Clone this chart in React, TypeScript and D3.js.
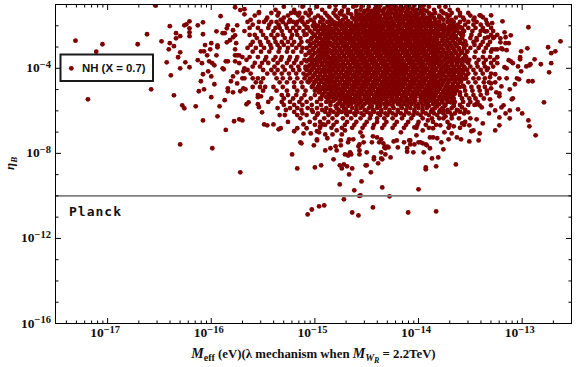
import React from 'react';
import * as d3 from 'd3';

// every value is log10(M_eff / eV), log10(eta_B)
const outliers: [number, number][] = [
  [-17.31,-2.7],[-17.05,-2.87],[-17.11,-3.22],[-17.19,-5.46],[-16.71,-2.87],[-16.62,-2.4],[-16.48,-2.73],[-16.58,-4.99],
  [-16.4,-2.02],[-16.34,-2.35],[-16.34,-2.59],[-16.3,-2.49],[-16.26,-1.98],[-16.24,-1.93],[-16.21,-1.79],[-16.21,-2.12],
  [-16.21,-2.31],[-16.21,-2.49],[-16.13,-1.98],[-16.4,-2.82],[-16.36,-2.96],[-16.41,-3.11],[-16.3,-3.25],[-16.32,-3.48],
  [-16.43,-3.72],[-16.25,-3.72],[-16.3,-4],[-16.21,-3.95],[-16.13,-3.62],[-16.39,-4.33],[-16.36,-5.27],[-16.28,-5.74],
  [-16.26,-5.88],[-16.15,-5.79],[-16.12,-5.08],[-16.3,-7.58],[-16.54,-1.05],
  [-16.08,-6.45],[-15.99,-7.76],[-15.72,-8.89],[-15.86,-6.9],[-15.78,-6.49],[-15.73,-6.4],[-15.7,-6.45],[-15.94,-6.26],
  [-15.92,-5.79],[-15.87,-5.5],[-16,-5.36],[-16.07,-4.99],[-15.97,-4.75],[-16.1,-4.61],[-16,-4.38],[-16.08,-4.28],
  [-16.03,-4.14],[-16.09,-3.76],[-16.02,-3.67],[-15.99,-3.76],[-15.97,-3.86],[-16.04,-3.39],[-15.95,-3.39],[-16.1,-3.2],
  [-16.07,-3.2],[-16.01,-3.11],[-16,-2.82],[-16.06,-2.91],[-15.94,-2.92],[-15.94,-3.01],[-16.08,-2.4],[-15.95,-2.26],
  [-16.08,-1.84],[-15.91,-1.55],[-15.77,-1.13],[-15.72,-1.26],[-15.68,-1.22],[-15.68,-1.46],[-15.54,-1.36],[-15.75,-1.98],
  [-15.84,-1.98],[-15.85,-2.12],[-15.89,-2.35],[-15.87,-2.35],[-15.79,-2.21],[-15.77,-2.45],[-15.79,-2.54],[-15.82,-2.68],
  [-15.85,-2.78],[-15.76,-2.82],[-15.77,-3.11],[-15.75,-3.39],[-15.73,-3.39],[-15.77,-3.39],[-15.84,-3.67],[-15.86,-3.67],
  [-15.73,-3.76],[-15.77,-3.67],[-15.89,-4],[-15.88,-4.05],[-15.75,-4.19],[-15.79,-4.38],[-15.81,-4.61],[-15.75,-4.71],
  [-15.7,-4.47],[-15.68,-4],[-15.69,-4.14],[-15.84,-4.94],[-15.84,-5.08],[-15.79,-5.13],[-15.72,-5.08],[-15.69,-4.94],
  [-15.67,-4.99],[-15.66,-5.69],[-15.64,-5.6],[-15.55,-5.36],[-15.52,-5.32],[-15.55,-5.69],[-15.54,-5.83],[-15.51,-6.07],
  [-15.49,-6.64],[-15.46,-6.68],[-15.4,-6.64],[-15.35,-6.87],[-15.33,-6.82],[-15.22,-8.05],[-15.17,-8.71],[-15,-8.66],
  [-14.94,-8.56],[-15.14,-7.48],[-15.13,-7.53],[-15.01,-7.62],[-15.2,-6.96],[-15.17,-6.82],[-15.11,-6.64],[-15.08,-6.82],
  [-15.11,-7.06],[-15.04,-7.06],[-14.98,-6.96],[-14.98,-7.39],[-14.9,-7.86],[-14.85,-7.76],[-14.82,-8.28],[-14.79,-7.86],
  [-14.76,-8.56],[-14.74,-8.71],[-14.72,-8.52],[-14.69,-8.61],[-14.64,-8.71],[-14.67,-8.99],[-14.71,-8.05],[-14.66,-8],
  [-14.57,-8.05],[-14.57,-7.58],[-14.5,-7.95],[-14.51,-8.56],[-14.46,-8.89],[-14.43,-8.19],[-14.39,-8.47],[-14.36,-7.95],
  [-14.35,-8.28],[-14.27,-8.19],[-14.32,-7.76],[-14.2,-7.72],[-15.07,-10.87],[-15.03,-10.64],[-14.96,-10.49],[-14.91,-10.45],
  [-14.76,-9.46],[-14.72,-10.16],[-14.64,-10.78],[-14.58,-10.92],[-14.62,-9.74],[-14.55,-9.32],[-14.56,-9.98],[-14.57,-10],
  [-14.44,-10.54],[-14.35,-9.6],[-14.28,-10.02],[-14.1,-10.78],[-14,-9.69],[-13.83,-10.73],[-13.93,-8.66],[-13.93,-8.75],
  [-13.83,-8.61],[-13.87,-8.24],[-13.81,-8.19],[-13.76,-7.81],[-14.32,-8.05],[-14.36,-8.24],[-14.43,-8.28],[-14.5,-8.56],
  [-14.57,-7.86],[-14.58,-7.67],[-14.65,-8.05],[-14.68,-8.1],[-14.66,-7.95],[-14.11,-7.92],[-14.11,-7.76],[-14.05,-7.95],
  [-13.95,-7.95],[-13.89,-7.76],[-13.93,-7.58],[-13.98,-7.48],[-14.04,-7.58],[-14.08,-7.58],[-14.08,-7.39],[-14.14,-7.48],
  [-14.24,-7.44],[-14.21,-7.39],[-14.32,-7.68],[-14.3,-7.68],[-14.29,-7.72],[-14.33,-7.72],[-14.34,-7.53],[-14.38,-7.48],
  [-14.44,-7.2],[-14.4,-7.25],[-14.36,-7.34],[-14.45,-7.48],[-14.53,-7.48],[-14.54,-7.2],[-14.56,-7.01],[-14.63,-7.34],
  [-14.67,-7.34],[-14.68,-7.48],[-14.75,-7.39],[-14.74,-7.11],[-14.71,-6.92],[-14.79,-6.92],[-14.83,-7.11],[-14.75,-7.62],
  [-14.8,-7.67],[-14.98,-7.34],[-14.95,-6.73],[-14.96,-7.01],[-14.9,-7.11],[-14.88,-7.29],[-14.92,-6.64],
  [-12.63,-2.73],[-12.94,-2.07],[-12.75,-3.01],[-12.68,-3.2],[-12.72,-3.29],[-12.72,-3.76],[-12.74,-4.19],[-12.82,-3.81],
  [-12.88,-3.58],[-12.95,-3.06],[-13.01,-3.2],[-13.02,-3.48],[-13.02,-3.58],[-12.93,-3.86],[-12.96,-3.91],[-12.92,-3.81],
  [-13.01,-4.14],[-12.94,-4.61],[-12.9,-4.61],[-12.79,-5.6],[-13.04,-5.93],[-13,-6.12],[-12.94,-6.45],[-12.93,-6.73],
  [-12.87,-7.15],[-13.12,-6.35],[-13.16,-6.12],[-13.12,-5.98],[-13.18,-5.74],[-13.2,-5.84],[-13.26,-5.98],[-13.22,-6.31],
  [-13.22,-6.68],[-13.26,-6.92],[-13.1,-5.46],[-13.09,-5.41],[-13.07,-4.75],[-13.05,-4.47],[-13.03,-4.52],[-13.15,-4.47],
  [-13.12,-4.99],[-13.2,-4.85],[-13.22,-5.18],[-13.22,-5.32],[-13.25,-5.13],[-13.26,-4.66],[-13.22,-4.47],[-13.31,-4.42],
  [-13.3,-4.71],[-13.3,-4.94],[-13.34,-5.18],[-13.31,-5.46],[-13.04,-3.91],[-13.09,-3.76],[-13.13,-3.62],[-13.11,-3.67],
  [-13.15,-4],[-13.17,-3.95],[-13.24,-3.48],[-13.24,-3.76],[-13.26,-4.28],[-13.33,-4],[-13.19,-3.11],[-13.15,-3.15],
  [-13.2,-3.06],[-13.21,-2.78],[-13.16,-2.82],[-13.13,-2.82],[-13.17,-2.31],[-13.11,-2.45],[-13.16,-2.54],[-13.21,-2.59],
  [-13.19,-1.79],[-13.3,-1.51],[-13.34,-1.88],[-13.29,-1.88],[-13.41,-1.51],[-13.38,-1.6],[-13.36,-2.26],[-13.34,-2.26],
  [-13.27,-2.54],[-13.33,-2.54],[-13.44,-2.68],[-13.26,-3.11],[-13.29,-3.11],[-13.24,-3.11],
  [-13.38,-6.59],[-13.44,-6.4],[-13.32,-6.12],[-13.3,-5.74],[-13.41,-7.06],[-13.42,-7.39],[-13.51,-7.44],[-13.59,-7.34],
  [-13.64,-8.52],[-14,-7.48],[-13.96,-7.53],[-13.92,-7.62],[-13.78,-7.48],[-13.82,-7.29],[-13.86,-7.25],[-13.89,-7.25],
  [-13.71,-7.34],[-13.68,-7.06],[-13.63,-7.25],[-13.75,-7.01],[-13.79,-6.68],[-13.86,-6.82],[-13.96,-6.92],[-14.02,-7.15],
  [-14.09,-7.39],[-14.17,-7.01],[-14.04,-6.78],[-13.91,-6.45],[-13.8,-6.35],[-13.74,-6.26],[-13.66,-6.73],[-13.61,-6.35],
  [-13.58,-6.59],[-13.51,-6.68],[-13.49,-6.96],[-13.47,-6.92],[-13.41,-5.74],[-13.39,-5.84],[-13.44,-5.69],[-13.52,-6.07],
  [-13.58,-5.84],[-13.62,-5.98],[-13.7,-6.07],[-13.76,-5.98],[-13.86,-5.93],
];

// medium density part, one entry per eta row: [log10 eta, log10 masses]
const fringeRows: [number, number[]][] = [
  [-1.1,[-15.3,-15.12,-14.98,-14.86,-14.72,-14.63,-14.55,-14.48,-14.3,-14.22,-14.12,-13.98,-13.9,-13.8,-13.74]],
  [-1.4,[-15.54,-15.42,-15.35,-15.23,-15.19,-15.15,-15.09,-15.04,-14.9,-14.82,-14.76,-14.68,-14.6,-14.53,-14.47,-13.9,-13.84,-13.76,-13.68,-13.6,-13.52]],
  [-1.62,[-15.46,-15.3,-15.12,-15,-14.94,-14.86,-14.78,-14.7,-14.64,-13.92,-13.85,-13.78,-13.72,-13.64,-13.57,-13.46]],
  [-1.82,[-15.65,-15.54,-15.49,-15.42,-15.37,-15.31,-15.25,-15.21,-15.17,-15.12,-15.07,-15.01,-14.95,-14.88,-14.82,-13.8,-13.72,-13.66,-13.6,-13.52,-13.44]],
  [-2.1,[-15.63,-15.55,-15.45,-15.38,-15.34,-15.27,-15.21,-15.15,-15.08,-13.58,-13.52,-13.45,-13.38,-13.3]],
  [-2.43,[-15.63,-15.58,-15.5,-15.42,-15.36,-15.31,-15.22,-15.17,-15.1,-13.57,-13.49,-13.41,-13.3,-13.24]],
  [-2.76,[-15.6,-15.53,-15.45,-15.38,-15.32,-15.26,-15.2,-15.13,-13.55,-13.47,-13.38,-13.31]],
  [-3.04,[-15.65,-15.57,-15.49,-15.42,-15.34,-15.26,-15.18,-15.12,-13.56,-13.5,-13.42,-13.35]],
  [-3.47,[-15.7,-15.63,-15.55,-15.47,-15.38,-15.32,-15.24,-15.17,-13.54,-13.46,-13.38,-13.31]],
  [-3.75,[-15.58,-15.51,-15.45,-15.36,-15.27,-15.2,-15.13,-13.52,-13.44,-13.37,-13.3]],
  [-4.08,[-15.65,-15.5,-15.42,-15.36,-15.29,-15.21,-15.15,-15.08,-13.53,-13.47,-13.4,-13.34]],
  [-4.47,[-15.68,-15.6,-15.55,-15.5,-15.37,-15.31,-15.24,-15.17,-15.1,-13.54,-13.47,-13.42,-13.36]],
  [-4.88,[-15.6,-15.53,-15.48,-15.4,-15.31,-15.2,-15.12,-15.03,-13.56,-13.49,-13.42,-13.36]],
  [-5.26,[-15.55,-15.32,-15.26,-15.18,-15.1,-15,-13.6,-13.54,-13.47,-13.4]],
  [-5.58,[-15.45,-15.32,-15.24,-15.15,-15.08,-14.98,-14.89,-13.72,-13.65,-13.57,-13.5,-13.43]],
  [-5.87,[-15.36,-15.24,-15.17,-15.07,-14.98,-14.89,-14.79,-14.72,-14.64,-14.56,-14.48,-14.4,-14.32,-14.24,-14.16,-14.08,-14,-13.92,-13.84,-13.77,-13.68]],
  [-6.05,[-15.2,-15.02,-14.9,-14.82,-14.74,-14.66,-14.59,-14.5,-14.43,-14.36,-14.28,-14.2,-14.12,-14.04,-13.96,-13.88,-13.8,-13.72,-13.6]],
  [-6.2,[-15.34,-15.29,-15.17,-15.08,-14.98,-14.87,-14.79,-14.69,-14.61,-14.53,-14.46,-14.37,-14.3,-14.22,-14.14,-14.05,-13.98,-13.9,-13.82,-13.68]],
  [-6.52,[-15.26,-15.05,-14.95,-14.87,-14.79,-14.69,-14.6,-14.5,-14.4,-14.31,-14.21,-14.1,-14,-13.86,-13.72,-13.55]],
  [-6.8,[-14.95,-14.84,-14.74,-14.64,-14.54,-14.44,-14.35,-14.25,-14.14,-14.02,-13.9,-13.71,-13.6]],
  // second pass, in between the rows above
  [-1.25,[-15.38,-15.2,-15.05,-14.93,-14.8,-14.68,-14.56,-14.49,-14.02,-13.95,-13.85,-13.7,-13.62]],
  [-1.52,[-15.58,-15.36,-15.26,-15.16,-15.06,-14.97,-14.88,-14.8,-14.72,-13.88,-13.8,-13.7,-13.6,-13.5,-13.4]],
  [-1.72,[-15.62,-15.47,-15.33,-15.24,-15.14,-15.04,-14.92,-14.84,-14.73,-13.84,-13.76,-13.68,-13.56,-13.47,-13.35]],
  [-1.95,[-15.6,-15.44,-15.35,-15.28,-15.18,-15.1,-13.62,-13.55,-13.47,-13.4,-13.33]],
  [-2.25,[-15.68,-15.52,-15.4,-15.32,-15.24,-15.18,-15.11,-13.56,-13.48,-13.4,-13.35,-13.28]],
  [-2.58,[-15.56,-15.47,-15.39,-15.29,-15.23,-15.14,-13.58,-13.5,-13.44,-13.36,-13.28]],
  [-2.9,[-15.62,-15.52,-15.43,-15.36,-15.3,-15.22,-15.15,-13.54,-13.46,-13.4,-13.33]],
  [-3.22,[-15.6,-15.52,-15.44,-15.35,-15.27,-15.21,-15.13,-13.53,-13.45,-13.37,-13.3]],
  [-3.6,[-15.66,-15.48,-15.4,-15.33,-15.25,-15.18,-15.1,-13.51,-13.42,-13.35,-13.27]],
  [-3.92,[-15.6,-15.53,-15.39,-15.31,-15.23,-15.16,-15.09,-13.5,-13.43,-13.36,-13.28]],
  [-4.25,[-15.62,-15.46,-15.39,-15.32,-15.25,-15.18,-15.11,-13.52,-13.45,-13.38,-13.3]],
  [-4.66,[-15.57,-15.52,-15.34,-15.27,-15.2,-15.13,-15.06,-13.52,-13.45,-13.37,-13.32]],
  [-5.05,[-15.5,-15.37,-15.27,-15.17,-15.09,-15,-13.55,-13.48,-13.41,-13.34]],
  [-5.42,[-15.42,-15.3,-15.21,-15.13,-15.04,-14.95,-13.66,-13.58,-13.51,-13.45,-13.37]],
  [-5.72,[-15.3,-15.2,-15.12,-15.03,-14.94,-14.85,-13.74,-13.66,-13.6,-13.52,-13.46]],
  [-5.96,[-15.28,-15.13,-15.03,-14.93,-14.85,-14.77,-14.7,-14.6,-14.52,-14.44,-14.36,-14.28,-14.2,-14.12,-14.04,-13.96,-13.87,-13.79,-13.72,-13.63,-13.55]],
  [-6.12,[-15.12,-14.97,-14.86,-14.78,-14.7,-14.62,-14.55,-14.47,-14.39,-14.32,-14.25,-14.17,-14.09,-14.01,-13.93,-13.85,-13.76,-13.65,-13.56]],
  [-6.35,[-15.14,-15,-14.91,-14.83,-14.73,-14.65,-14.56,-14.47,-14.4,-14.33,-14.25,-14.16,-14.07,-13.96,-13.87,-13.76,-13.68,-13.5]],
  [-6.66,[-15,-14.9,-14.82,-14.71,-14.62,-14.52,-14.43,-14.33,-14.23,-14.12,-14.01,-13.93,-13.83,-13.7,-13.56]],
];

// the solid middle of the cloud
const coreRows: [number, number[]][] = [
  [-1.2,[-14.42,-14.38,-14.33,-14.27,-14.24,-14.19,-14.15,-14.1,-14.06]],
  [-1.38,[-14.43,-14.39,-14.34,-14.3,-14.26,-14.21,-14.17,-14.12,-14.08,-14.03,-13.98]],
  [-1.54,[-14.6,-14.55,-14.5,-14.46,-14.41,-14.37,-14.32,-14.28,-14.23,-14.19,-14.14,-14.1,-14.05,-14.01,-13.96]],
  [-1.7,[-14.62,-14.57,-14.53,-14.48,-14.44,-14.39,-14.35,-14.3,-14.26,-14.21,-14.17,-14.12,-14.08,-14.03,-13.99,-13.94,-13.89]],
  [-1.86,[-14.8,-14.75,-14.7,-14.65,-14.6,-14.55,-14.51,-14.46,-14.42,-14.37,-14.33,-14.28,-14.24,-14.19,-14.15,-14.1,-14.06,-14.01,-13.97,-13.92,-13.87,-13.82]],
  [-2,[-15.02,-14.97,-14.91,-14.86,-14.81,-14.76,-14.72,-14.67,-14.63,-14.58,-14.54,-14.49,-14.45,-14.41,-14.36,-14.31,-14.27,-14.22,-14.18,-14.13,-14.09,-14.04,-14,-13.95,-13.9,-13.85,-13.8,-13.75,-13.7,-13.65]],
  [-2.16,[-15,-14.94,-14.89,-14.84,-14.79,-14.74,-14.7,-14.65,-14.61,-14.56,-14.52,-14.47,-14.43,-14.39,-14.34,-14.29,-14.25,-14.2,-14.16,-14.11,-14.07,-14.02,-13.98,-13.93,-13.88,-13.83,-13.78,-13.73,-13.68,-13.63]],
  [-2.32,[-15.03,-14.97,-14.92,-14.87,-14.82,-14.77,-14.72,-14.68,-14.63,-14.59,-14.54,-14.5,-14.45,-14.41,-14.37,-14.32,-14.27,-14.23,-14.18,-14.14,-14.09,-14.05,-14,-13.96,-13.91,-13.86,-13.81,-13.76,-13.71,-13.66,-13.61]],
  [-2.48,[-15,-14.95,-14.9,-14.85,-14.8,-14.75,-14.7,-14.66,-14.61,-14.57,-14.52,-14.48,-14.43,-14.39,-14.35,-14.3,-14.25,-14.21,-14.16,-14.12,-14.07,-14.03,-13.98,-13.94,-13.89,-13.84,-13.79,-13.74,-13.69,-13.64]],
  [-2.64,[-15.04,-14.98,-14.93,-14.87,-14.82,-14.77,-14.73,-14.68,-14.64,-14.59,-14.55,-14.5,-14.46,-14.41,-14.37,-14.33,-14.28,-14.23,-14.19,-14.14,-14.1,-14.05,-14.01,-13.96,-13.92,-13.87,-13.82,-13.77,-13.72,-13.67,-13.62]],
  [-2.8,[-15.01,-14.95,-14.9,-14.85,-14.8,-14.75,-14.71,-14.66,-14.62,-14.57,-14.53,-14.48,-14.44,-14.39,-14.35,-14.31,-14.26,-14.21,-14.17,-14.12,-14.08,-14.03,-13.99,-13.94,-13.9,-13.85,-13.8,-13.75,-13.7,-13.65,-13.6]],
  [-2.96,[-15.05,-14.99,-14.93,-14.88,-14.83,-14.78,-14.73,-14.69,-14.64,-14.6,-14.55,-14.51,-14.46,-14.42,-14.37,-14.33,-14.29,-14.24,-14.19,-14.15,-14.1,-14.06,-14.01,-13.97,-13.92,-13.88,-13.83,-13.78,-13.73,-13.68,-13.63]],
  [-3.12,[-15.02,-14.96,-14.91,-14.86,-14.81,-14.76,-14.71,-14.67,-14.62,-14.58,-14.53,-14.49,-14.44,-14.4,-14.35,-14.31,-14.27,-14.22,-14.17,-14.13,-14.08,-14.04,-13.99,-13.95,-13.9,-13.86,-13.81,-13.76,-13.71,-13.66,-13.61]],
  [-3.28,[-15.06,-15,-14.94,-14.89,-14.84,-14.79,-14.74,-14.69,-14.65,-14.6,-14.56,-14.51,-14.47,-14.42,-14.38,-14.33,-14.29,-14.25,-14.2,-14.15,-14.11,-14.06,-14.02,-13.97,-13.93,-13.88,-13.84,-13.79,-13.74,-13.69,-13.64,-13.59]],
  [-3.44,[-15.03,-14.97,-14.92,-14.87,-14.82,-14.77,-14.72,-14.67,-14.63,-14.58,-14.54,-14.49,-14.45,-14.4,-14.36,-14.31,-14.27,-14.23,-14.18,-14.13,-14.09,-14.04,-14,-13.95,-13.91,-13.86,-13.82,-13.77,-13.72,-13.67,-13.62]],
  [-3.6,[-15.06,-15,-14.95,-14.9,-14.85,-14.8,-14.75,-14.7,-14.65,-14.61,-14.56,-14.52,-14.47,-14.43,-14.38,-14.34,-14.29,-14.25,-14.21,-14.16,-14.11,-14.07,-14.02,-13.98,-13.93,-13.89,-13.84,-13.8,-13.75,-13.7,-13.65,-13.6,-13.56]],
  [-3.76,[-15.03,-14.98,-14.93,-14.88,-14.83,-14.78,-14.73,-14.68,-14.63,-14.59,-14.54,-14.5,-14.45,-14.41,-14.36,-14.32,-14.27,-14.23,-14.19,-14.14,-14.09,-14.05,-14,-13.96,-13.91,-13.87,-13.82,-13.78,-13.73,-13.68,-13.63,-13.58]],
  [-3.92,[-15.06,-15.01,-14.96,-14.91,-14.86,-14.81,-14.76,-14.71,-14.66,-14.61,-14.57,-14.52,-14.48,-14.43,-14.39,-14.34,-14.3,-14.25,-14.21,-14.17,-14.12,-14.07,-14.03,-13.98,-13.94,-13.89,-13.85,-13.8,-13.76,-13.71,-13.66,-13.61,-13.56]],
  [-4.08,[-15.03,-14.98,-14.93,-14.88,-14.83,-14.78,-14.73,-14.68,-14.64,-14.59,-14.55,-14.5,-14.46,-14.41,-14.37,-14.32,-14.28,-14.23,-14.19,-14.15,-14.1,-14.05,-14.01,-13.96,-13.92,-13.87,-13.83,-13.78,-13.74,-13.69,-13.64,-13.59]],
  [-4.24,[-15.05,-15,-14.95,-14.9,-14.85,-14.8,-14.75,-14.7,-14.66,-14.61,-14.57,-14.52,-14.48,-14.43,-14.39,-14.34,-14.3,-14.25,-14.21,-14.17,-14.12,-14.07,-14.03,-13.98,-13.94,-13.89,-13.85,-13.8,-13.76,-13.71,-13.66,-13.61,-13.57]],
  [-4.4,[-15.02,-14.97,-14.92,-14.87,-14.82,-14.77,-14.72,-14.68,-14.63,-14.59,-14.54,-14.5,-14.45,-14.41,-14.36,-14.32,-14.27,-14.23,-14.19,-14.14,-14.09,-14.05,-14,-13.96,-13.91,-13.87,-13.82,-13.78,-13.73,-13.68,-13.63,-13.59]],
  [-4.56,[-15.04,-14.99,-14.94,-14.89,-14.84,-14.79,-14.74,-14.69,-14.65,-14.6,-14.56,-14.51,-14.47,-14.42,-14.38,-14.33,-14.29,-14.25,-14.2,-14.16,-14.11,-14.06,-14.02,-13.97,-13.93,-13.88,-13.84,-13.79,-13.75,-13.7,-13.65,-13.6]],
  [-4.72,[-15.01,-14.96,-14.91,-14.86,-14.81,-14.76,-14.71,-14.67,-14.62,-14.58,-14.53,-14.49,-14.44,-14.4,-14.35,-14.31,-14.27,-14.22,-14.18,-14.13,-14.08,-14.04,-13.99,-13.95,-13.9,-13.86,-13.81,-13.77,-13.72,-13.67,-13.62]],
  [-4.88,[-14.97,-14.92,-14.87,-14.83,-14.78,-14.73,-14.69,-14.64,-14.6,-14.55,-14.51,-14.46,-14.42,-14.37,-14.33,-14.29,-14.24,-14.2,-14.15,-14.1,-14.06,-14.01,-13.97,-13.92,-13.88,-13.83,-13.79,-13.74,-13.7,-13.65,-13.6]],
  [-5.04,[-14.95,-14.9,-14.85,-14.8,-14.75,-14.71,-14.66,-14.62,-14.57,-14.53,-14.48,-14.44,-14.39,-14.35,-14.31,-14.26,-14.22,-14.17,-14.12,-14.08,-14.03,-13.99,-13.94,-13.9,-13.85,-13.81,-13.76,-13.72,-13.67,-13.63]],
  [-5.2,[-14.92,-14.87,-14.82,-14.77,-14.73,-14.68,-14.64,-14.59,-14.55,-14.5,-14.46,-14.41,-14.37,-14.33,-14.28,-14.24,-14.19,-14.14,-14.1,-14.05,-14.01,-13.96,-13.92,-13.87,-13.83,-13.78,-13.74,-13.69,-13.65]],
  [-5.36,[-14.89,-14.84,-14.79,-14.75,-14.7,-14.66,-14.61,-14.57,-14.52,-14.48,-14.43,-14.39,-14.35,-14.3,-14.26,-14.21,-14.16,-14.12,-14.07,-14.03,-13.98,-13.94,-13.89,-13.85,-13.8,-13.76,-13.71]],
  [-5.52,[-14.82,-14.76,-14.71,-14.66,-14.6,-14.55,-14.5,-14.45,-14.41,-14.36,-14.31,-14.27,-14.22,-14.17,-14.13,-14.08,-14.03,-13.98,-13.93,-13.88,-13.82,-13.77]],
  [-5.68,[-14.78,-14.72,-14.65,-14.58,-14.52,-14.47,-14.4,-14.33,-14.28,-14.2,-14.14,-14.07,-14,-13.93,-13.86,-13.8]],
];

// in-between rows for the same middle, these close the remaining gaps
const coreFillRows: [number, number[]][] = [
  [-2.08,[-14.8,-14.74,-14.7,-14.65,-14.6,-14.56,-14.52,-14.47,-14.43,-14.38,-14.34,-14.29,-14.25,-14.2,-14.16,-14.11,-14.07,-14.02,-13.98,-13.93,-13.88,-13.82]],
  [-2.24,[-14.82,-14.77,-14.72,-14.67,-14.63,-14.58,-14.53,-14.49,-14.45,-14.4,-14.36,-14.31,-14.27,-14.22,-14.18,-14.13,-14.08,-14.04,-14,-13.95,-13.9,-13.85]],
  [-2.4,[-14.8,-14.75,-14.7,-14.66,-14.61,-14.57,-14.52,-14.47,-14.43,-14.39,-14.34,-14.29,-14.25,-14.21,-14.16,-14.11,-14.07,-14.02,-13.98,-13.93,-13.89,-13.83]],
  [-2.56,[-14.83,-14.78,-14.72,-14.68,-14.63,-14.59,-14.54,-14.5,-14.45,-14.41,-14.36,-14.32,-14.27,-14.23,-14.18,-14.14,-14.09,-14.04,-14,-13.95,-13.9,-13.86]],
  [-2.72,[-14.8,-14.75,-14.71,-14.66,-14.62,-14.57,-14.52,-14.48,-14.44,-14.39,-14.35,-14.3,-14.26,-14.21,-14.17,-14.12,-14.08,-14.03,-13.98,-13.94,-13.89,-13.84]],
  [-2.88,[-14.83,-14.78,-14.73,-14.69,-14.64,-14.59,-14.55,-14.5,-14.46,-14.41,-14.37,-14.33,-14.28,-14.23,-14.19,-14.14,-14.1,-14.05,-14.01,-13.96,-13.91,-13.86]],
  [-3.04,[-14.81,-14.76,-14.71,-14.67,-14.62,-14.58,-14.53,-14.49,-14.44,-14.39,-14.35,-14.31,-14.26,-14.22,-14.17,-14.13,-14.08,-14.03,-13.99,-13.95,-13.9,-13.85]],
  [-3.2,[-14.84,-14.79,-14.74,-14.69,-14.65,-14.6,-14.56,-14.51,-14.47,-14.42,-14.38,-14.33,-14.29,-14.24,-14.2,-14.15,-14.11,-14.06,-14.01,-13.97,-13.93,-13.87]],
  [-3.36,[-14.82,-14.77,-14.72,-14.67,-14.63,-14.58,-14.54,-14.49,-14.45,-14.4,-14.36,-14.31,-14.27,-14.22,-14.18,-14.13,-14.09,-14.04,-14,-13.95,-13.91,-13.86]],
  [-3.52,[-14.84,-14.79,-14.75,-14.7,-14.65,-14.61,-14.56,-14.52,-14.47,-14.43,-14.38,-14.34,-14.29,-14.25,-14.2,-14.16,-14.11,-14.07,-14.02,-13.98,-13.93,-13.88]],
  [-3.68,[-14.82,-14.78,-14.73,-14.68,-14.63,-14.59,-14.54,-14.5,-14.45,-14.41,-14.36,-14.32,-14.27,-14.23,-14.18,-14.14,-14.09,-14.05,-14,-13.96,-13.91,-13.86]],
  [-3.84,[-14.85,-14.8,-14.75,-14.71,-14.66,-14.61,-14.57,-14.52,-14.48,-14.43,-14.39,-14.34,-14.3,-14.25,-14.21,-14.16,-14.12,-14.07,-14.03,-13.98,-13.94,-13.89]],
  [-4,[-14.83,-14.78,-14.73,-14.68,-14.64,-14.59,-14.55,-14.5,-14.46,-14.41,-14.37,-14.32,-14.28,-14.23,-14.19,-14.14,-14.1,-14.05,-14.01,-13.96,-13.92,-13.87]],
  [-4.16,[-14.85,-14.8,-14.75,-14.7,-14.66,-14.61,-14.57,-14.52,-14.48,-14.43,-14.39,-14.34,-14.3,-14.25,-14.21,-14.16,-14.12,-14.07,-14.03,-13.98,-13.94,-13.89]],
  [-4.32,[-14.82,-14.77,-14.72,-14.68,-14.63,-14.59,-14.54,-14.5,-14.45,-14.41,-14.36,-14.32,-14.27,-14.23,-14.18,-14.14,-14.09,-14.05,-14,-13.96,-13.91,-13.86]],
  [-4.48,[-14.84,-14.79,-14.74,-14.69,-14.65,-14.6,-14.56,-14.51,-14.47,-14.42,-14.38,-14.33,-14.29,-14.24,-14.2,-14.15,-14.11,-14.06,-14.02,-13.97,-13.93,-13.88]],
  [-4.64,[-14.81,-14.76,-14.71,-14.67,-14.62,-14.58,-14.53,-14.49,-14.44,-14.4,-14.35,-14.31,-14.26,-14.22,-14.17,-14.13,-14.08,-14.04,-13.99,-13.95,-13.9,-13.85]],
  [-4.8,[-14.78,-14.73,-14.69,-14.64,-14.6,-14.55,-14.51,-14.46,-14.42,-14.37,-14.33,-14.28,-14.24,-14.19,-14.15,-14.1,-14.06,-14.01,-13.97,-13.92,-13.87]],
  [-4.96,[-14.76,-14.71,-14.66,-14.62,-14.57,-14.53,-14.48,-14.44,-14.39,-14.35,-14.3,-14.26,-14.21,-14.17,-14.12,-14.08,-14.03,-13.99,-13.94,-13.89]],
  [-5.12,[-14.73,-14.68,-14.64,-14.59,-14.55,-14.5,-14.46,-14.41,-14.37,-14.32,-14.28,-14.23,-14.19,-14.14,-14.1,-14.05,-14.01,-13.96,-13.91]],
  [-5.28,[-14.71,-14.66,-14.61,-14.57,-14.52,-14.48,-14.43,-14.39,-14.34,-14.3,-14.25,-14.21,-14.16,-14.12,-14.07,-14.03,-13.98,-13.93]],
];

// both flanks of the middle, where only small flecks of white are left
const flankRows: [number, number[]][] = [
  [-2.07,[-15.07,-14.99,-14.93,-14.88,-13.83,-13.77,-13.71,-13.66,-13.6]],
  [-2.23,[-15.05,-14.97,-14.91,-14.86,-13.81,-13.75,-13.7,-13.64,-13.57]],
  [-2.41,[-15.08,-15.01,-14.94,-14.89,-14.85,-13.84,-13.78,-13.72,-13.67,-13.59]],
  [-2.57,[-15.03,-14.96,-14.9,-14.87,-13.82,-13.76,-13.69,-13.65,-13.58]],
  [-2.73,[-15.07,-14.99,-14.92,-14.88,-13.83,-13.77,-13.73,-13.67,-13.6,-13.55]],
  [-2.87,[-15.04,-14.96,-14.91,-14.86,-13.81,-13.75,-13.7,-13.64,-13.57]],
  [-3.05,[-15.08,-15.01,-14.94,-14.89,-13.84,-13.79,-13.72,-13.67,-13.61,-13.56]],
  [-3.21,[-15.05,-14.97,-14.92,-14.87,-13.82,-13.76,-13.71,-13.65,-13.58,-13.53]],
  [-3.37,[-15.09,-15.02,-14.95,-14.9,-13.83,-13.78,-13.73,-13.68,-13.61,-13.55]],
  [-3.53,[-15.04,-14.98,-14.93,-14.88,-13.85,-13.8,-13.74,-13.69,-13.63,-13.57]],
  [-3.67,[-15.08,-15.02,-14.96,-14.9,-14.85,-13.83,-13.77,-13.71,-13.67,-13.61,-13.54]],
  [-3.85,[-15.05,-14.99,-14.93,-14.88,-13.85,-13.8,-13.74,-13.68,-13.63,-13.58]],
  [-4.01,[-15.09,-15.02,-14.96,-14.9,-14.85,-13.83,-13.78,-13.72,-13.66,-13.61,-13.55]],
  [-4.15,[-15.05,-14.98,-14.92,-14.87,-13.85,-13.79,-13.73,-13.68,-13.63,-13.57]],
  [-4.33,[-15.08,-15.01,-14.95,-14.9,-14.85,-13.83,-13.76,-13.7,-13.66,-13.6,-13.54]],
  [-4.49,[-15.05,-14.97,-14.92,-14.87,-13.84,-13.78,-13.73,-13.67,-13.62,-13.56]],
  [-4.63,[-15.07,-15,-14.94,-14.88,-14.84,-13.82,-13.76,-13.71,-13.65,-13.59]],
  [-4.81,[-15.02,-14.96,-14.9,-14.85,-14.81,-13.84,-13.78,-13.73,-13.67,-13.62,-13.57]],
  [-4.97,[-14.99,-14.93,-14.88,-14.83,-14.79,-13.86,-13.8,-13.74,-13.69,-13.64]],
  [-5.13,[-14.96,-14.9,-14.84,-14.79,-13.88,-13.82,-13.76,-13.71,-13.66,-13.6]],
  [-5.29,[-14.93,-14.86,-14.81,-14.75,-13.9,-13.84,-13.78,-13.73,-13.67]],
  [-5.45,[-14.94,-14.87,-14.8,-14.73,-14.67,-14.63,-14.57,-14.52,-14.47,-14.38,-14.33,-14.25,-14.19,-14.11,-14.05,-13.96,-13.9,-13.85,-13.79,-13.73,-13.68]],
  [-5.6,[-14.85,-14.76,-14.69,-14.62,-14.56,-14.49,-14.43,-14.37,-14.3,-14.24,-14.18,-14.1,-14.04,-13.97,-13.91,-13.84,-13.77,-13.69]],
  [-5.77,[-14.8,-14.74,-14.68,-14.6,-14.54,-14.45,-14.37,-14.31,-14.25,-14.17,-14.11,-14.03,-13.96,-13.9,-13.82,-13.75,-13.66]],
  // top of the cloud, it runs off the frame
  [-1.05,[-14.8,-14.6,-14.41,-14.37,-14.29,-14.25,-14.17,-14.09,-14.04,-13.95]],
  [-1.3,[-14.74,-14.6,-14.52,-14.45,-14.4,-14.35,-14.29,-14.22,-14.16,-14.11,-14.04,-13.98,-13.92,-13.78]],
  [-1.46,[-14.75,-14.65,-14.57,-14.49,-14.44,-14.39,-14.33,-14.28,-14.23,-14.17,-14.12,-14.07,-14.01,-13.95,-13.87,-13.73]],
  [-1.62,[-14.58,-14.52,-14.47,-14.42,-14.37,-14.32,-14.27,-14.22,-14.18,-14.13,-14.07,-14.02,-13.97,-13.9,-13.8]],
  [-1.78,[-14.85,-14.76,-14.68,-14.6,-14.55,-14.5,-14.45,-14.4,-14.36,-14.31,-14.25,-14.2,-14.15,-14.09,-14.05,-14,-13.95,-13.9,-13.84,-13.7]],
  [-1.93,[-15,-14.92,-14.84,-14.78,-14.71,-14.66,-14.6,-14.56,-14.51,-14.47,-14.43,-14.38,-14.34,-14.29,-14.24,-14.18,-14.13,-14.08,-14.03,-13.98,-13.93,-13.88,-13.83,-13.76,-13.68]],
];

const planckEta = -10; // log10
const xDecades = [-17, -16, -15, -14, -13];
const yDecades = [-4, -8, -12, -16];
const minorMultipliers = [2, 3, 4, 5, 6, 7, 8, 9];
const legendLabel = 'NH (X = 0.7)';
const lineLabel = 'Planck';

const width = 576;
const height = 367;
const margin = { top: 4.5, right: 4.5, bottom: 43.5, left: 55.5 };
const serif = '"Liberation Serif", serif';
const dotColor = '#7f0000';

export default function App() {
  const x = d3.scaleLinear().domain([-17.503, -12.524]).range([margin.left, width - margin.right]);
  const y = d3.scaleLinear().domain([-16, -1]).range([height - margin.bottom, margin.top]);

  const rowPoints = (rows: [number, number[]][]) =>
    rows.flatMap(([eta, masses]) => masses.map((m) => [m, eta] as [number, number]));
  const points = [
    ...outliers,
    ...rowPoints(fringeRows),
    ...rowPoints(coreRows),
    ...rowPoints(coreFillRows),
    ...rowPoints(flankRows),
  ];

  // log ticks along x, with the 2..9 minors of every decade in range
  const xMinor = d3.range(-18, -12).flatMap((d) => minorMultipliers.map((m) => d + Math.log10(m)))
    .filter((v) => v > x.domain()[0] && v < x.domain()[1]);
  const yMinor = d3.range(-15, 0).filter((v) => !yDecades.includes(v) && v !== -1);
  const [x0, x1] = x.range();
  const [y0, y1] = y.range();

  return (
    <svg width={width} height={height} style={{ position: 'absolute', left: 0, top: 0, background: '#fff' }}>
      <defs>
        <clipPath id="plot">
          <rect x={x0} y={y1} width={x1 - x0} height={y0 - y1} />
        </clipPath>
      </defs>

      <g clipPath="url(#plot)" fill={dotColor}>
        {points.map(([m, eta], i) => (
          <circle key={i} cx={x(m)} cy={y(eta)} r={2.4} />
        ))}
      </g>

      <line x1={x0} x2={x1} y1={y(planckEta)} y2={y(planckEta)} stroke="#808080" strokeWidth={1.7} />
      <text x={69} y={215.5} fontFamily='"DejaVu Sans Mono", monospace' fontWeight="bold" fontSize={13} letterSpacing={1} fill="#111">{lineLabel}</text>

      {/* frame and inward ticks */}
      <rect x={x0} y={y1} width={x1 - x0} height={y0 - y1} fill="none" stroke="#000" strokeWidth={1} />
      <g stroke="#000" strokeWidth={1}>
        {xDecades.map((d) => (
          <g key={d}>
            <line x1={x(d)} x2={x(d)} y1={y0} y2={y0 - 5.5} />
            <line x1={x(d)} x2={x(d)} y1={y1} y2={y1 + 5.5} />
          </g>
        ))}
        {xMinor.map((v) => (
          <g key={v}>
            <line x1={x(v)} x2={x(v)} y1={y0} y2={y0 - 3} />
            <line x1={x(v)} x2={x(v)} y1={y1} y2={y1 + 3} />
          </g>
        ))}
        {yDecades.map((d) => (
          <g key={d}>
            <line x1={x0} x2={x0 + 5.5} y1={y(d)} y2={y(d)} />
            <line x1={x1} x2={x1 - 5.5} y1={y(d)} y2={y(d)} />
          </g>
        ))}
        {yMinor.map((v) => (
          <g key={v}>
            <line x1={x0} x2={x0 + 3} y1={y(v)} y2={y(v)} />
            <line x1={x1} x2={x1 - 3} y1={y(v)} y2={y(v)} />
          </g>
        ))}
      </g>

      {/* tick labels */}
      <g fontFamily={serif} fontWeight="bold" fontSize={13.5} fill="#111">
        {xDecades.map((d) => (
          <text key={d} x={x(d) - 2.5} y={337} textAnchor="middle">
            10<tspan fontSize={10.5} dy={-4.5}>{`\u2212${-d}`}</tspan>
          </text>
        ))}
        {yDecades.map((d) => (
          <text key={d} x={51} y={y(d) + 4} textAnchor="end">
            10<tspan fontSize={10.5} dy={-4.5}>{`\u2212${-d}`}</tspan>
          </text>
        ))}
      </g>

      {/* axis titles */}
      <text x={313.5} y={358} textAnchor="middle" fontFamily={serif} fontWeight="bold" fontSize={12.8} fill="#111">
        <tspan fontStyle="italic" fontSize={14}>M</tspan>
        <tspan fontSize={10} dy={2.5}>eff</tspan>
        <tspan dy={-2.5}> (eV)(λ mechanism when </tspan>
        <tspan fontStyle="italic" fontSize={14}>M</tspan>
        <tspan fontStyle="italic" fontSize={10} dy={2.5}>W</tspan>
        <tspan fontStyle="italic" fontSize={8} dy={2}>R</tspan>
        <tspan dy={-4.5}> = 2.2TeV)</tspan>
      </text>
      <text transform="translate(14,170) rotate(-90)" fontFamily={serif} fontWeight="bold" fontSize={13} fill="#111">
        <tspan fontStyle="italic">η</tspan>
        <tspan fontStyle="italic" fontSize={9} dy={2.5}>B</tspan>
      </text>

      {/* legend */}
      <rect x={60.5} y={54.5} width={92.5} height={26.5} fill="#fff" stroke="#1a1a1a" strokeWidth={2} />
      <circle cx={71.3} cy={68.3} r={2.4} fill={dotColor} />
      <text x={82} y={72} fontFamily='"Liberation Sans", sans-serif' fontWeight="bold" fontSize={11.4} fill="#111">{legendLabel}</text>
    </svg>
  );
}
